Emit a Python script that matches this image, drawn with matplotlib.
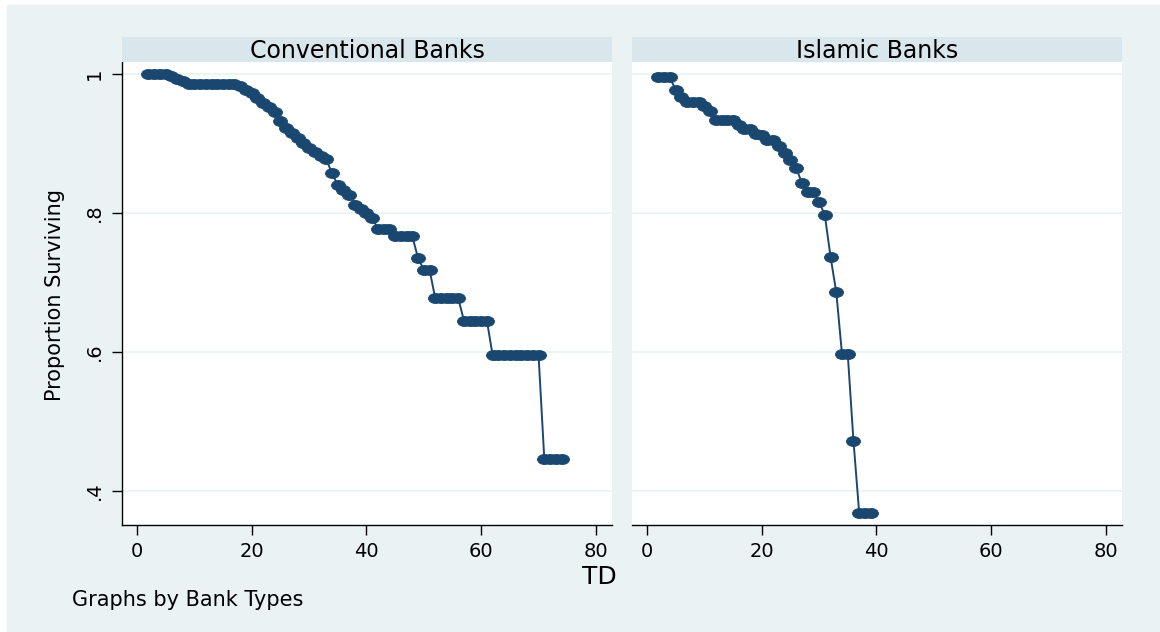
import matplotlib
matplotlib.use("Agg")
import matplotlib.pyplot as plt
from matplotlib.markers import MarkerStyle
from matplotlib.patches import Rectangle
from matplotlib.transforms import Affine2D

# survival estimates by time to distress (TD)
conv_td = [2, 3, 4, 5, 6, 7, 8, 9, 10, 11, 12, 13, 14, 15, 16, 17, 18, 19, 20,
           21, 22, 23, 24, 25, 26, 27, 28, 29, 30, 31, 32, 33, 34, 35, 36, 37,
           38, 39, 40, 41, 42, 43, 44, 45, 46, 47, 48, 49, 50, 51, 52, 53, 54,
           55, 56, 57, 58, 59, 60, 61, 62, 63, 64, 65, 66, 67, 68, 69, 70, 71,
           72, 73, 74]
conv_surv = [1.0, 1.0, 1.0, 1.0, 0.997, 0.993, 0.99,
             0.986, 0.986, 0.986, 0.986, 0.986, 0.986, 0.986, 0.986, 0.986,
             0.982, 0.977, 0.972, 0.965, 0.958, 0.952, 0.945, 0.932, 0.922,
             0.915, 0.908, 0.9, 0.893, 0.887, 0.882, 0.877, 0.857, 0.84,
             0.833, 0.826, 0.812, 0.806, 0.8, 0.793,
             0.777, 0.777, 0.777,
             0.766, 0.766, 0.766, 0.766,
             0.735,
             0.718, 0.718,
             0.677, 0.677, 0.677, 0.677, 0.677,
             0.645, 0.645, 0.645, 0.645, 0.645,
             0.595, 0.595, 0.595, 0.595, 0.595, 0.595, 0.595, 0.595, 0.595,
             0.446, 0.446, 0.446, 0.446]

isl_td = [2, 3, 4, 5, 6, 7, 8, 9, 10, 11, 12, 13, 14, 15, 16, 17, 18, 19, 20,
          21, 22, 23, 24, 25, 26, 27, 28, 29, 30, 31, 32, 33, 34, 35, 36, 37,
          38, 39]
isl_surv = [0.995, 0.995, 0.995, 0.977, 0.966, 0.96, 0.96, 0.96, 0.953, 0.947,
            0.934, 0.934, 0.934, 0.934, 0.927, 0.921, 0.921, 0.914, 0.912,
            0.905, 0.905, 0.896, 0.886, 0.876, 0.865, 0.843, 0.83, 0.83,
            0.816, 0.797, 0.737, 0.686, 0.597, 0.597, 0.472, 0.368, 0.368,
            0.368]

panels = ["Conventional Banks", "Islamic Banks"]
xticks = [0, 20, 40, 60, 80]
yticks = [0.4, 0.6, 0.8, 1.0]
yticklabels = [".4", ".6", ".8", "1"]

W, H = 1160, 632
navy = "#1A476F"
bg = "#EAF2F3"
head = "#D9E6EB"

fig = plt.figure(figsize=(W / 100, H / 100), dpi=100, facecolor="white")
fig.patches.append(Rectangle((7 / W, 0), 1 - 7 / W, 1 - 5 / H,
                             transform=fig.transFigure, color=bg, zorder=-10))

def px_rect(x0, y0, x1, y1):
    return [x0 / W, 1 - y1 / H, (x1 - x0) / W, (y1 - y0) / H]

mk = MarkerStyle("o", transform=Affine2D().scale(1.4, 1.0))
data = [(conv_td, conv_surv), (isl_td, isl_surv)]
lefts = [122, 632]

for i, (x0, (td, surv)) in enumerate(zip(lefts, data)):
    ax = fig.add_axes(px_rect(x0, 62, x0 + 490, 525))
    ax.set_facecolor("white")
    ax.plot(td, surv, color=navy, lw=1.4, marker=mk, markersize=7.2,
            markeredgewidth=0.6, markeredgecolor=navy, markerfacecolor=navy)
    ax.set_xlim(-2.6, 82.8)
    ax.set_ylim(0.351, 1.017)
    ax.set_yticks(yticks)
    for y in yticks:
        ax.axhline(y, color=bg, lw=1.2, zorder=0)
    for s in ["top", "right"]:
        ax.spines[s].set_visible(False)
    ax.spines["bottom"].set_linewidth(1.0)
    ax.set_xticks(xticks)
    ax.tick_params(axis="x", length=7, width=1, pad=5, labelsize=14)
    if i == 0:
        ax.set_yticklabels(yticklabels)
        ax.tick_params(axis="y", length=7, width=1, pad=6, labelsize=14,
                       labelrotation=90)
        for lab in ax.get_yticklabels():
            lab.set_va("center")
        ax.spines["left"].set_linewidth(1.0)
    else:
        ax.spines["left"].set_visible(False)
        ax.tick_params(axis="y", left=False, labelleft=False)

    hax = fig.add_axes(px_rect(x0, 37, x0 + 490, 62))
    hax.set_facecolor(head)
    hax.set_xticks([])
    hax.set_yticks([])
    for s in hax.spines.values():
        s.set_visible(False)
    hax.text(0.5, 0.45, panels[i], ha="center", va="center", fontsize=17,
             transform=hax.transAxes)

fig.text(55 / W, 1 - 295 / H, "Proportion Surviving", rotation=90,
         ha="center", va="center", fontsize=15)
fig.text(599 / W, 1 - 577 / H, "TD", ha="center", va="center", fontsize=18)
fig.text(72 / W, 1 - 600 / H, "Graphs by Bank Types", ha="left",
         va="center", fontsize=15)

fig.savefig("out.png", dpi=100, facecolor=fig.get_facecolor())
